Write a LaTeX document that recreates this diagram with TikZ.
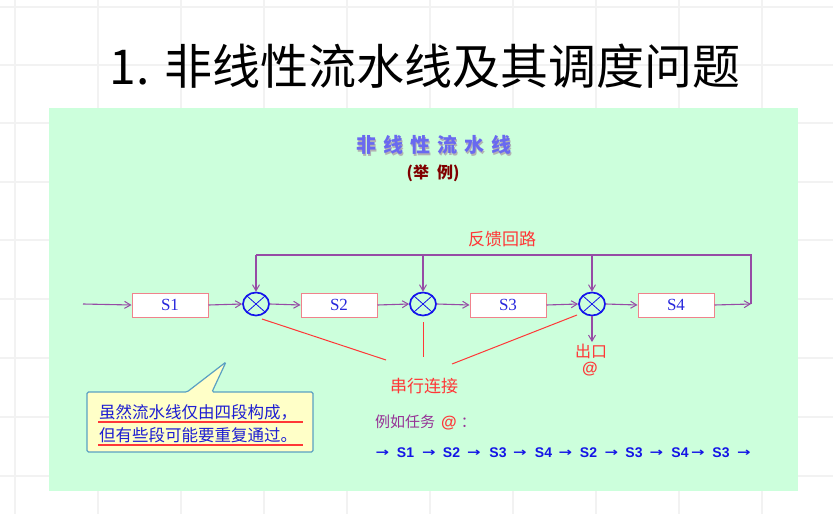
\documentclass[tikz,border=0pt]{standalone}
\usepackage{fontspec}
\usepackage{graphicx}
\setmainfont{Liberation Sans}
\newfontfamily\cjk{Noto Sans CJK SC}
\newfontfamily\serifS{Liberation Serif}
\newfontfamily\dvs{DejaVu Sans}
\usetikzlibrary{arrows.meta,shapes.geometric}
\definecolor{panelgreen}{RGB}{204,255,220}
\definecolor{gridgray}{RGB}{242,242,242}
\definecolor{flowpurple}{RGB}{150,75,165}
\definecolor{boxpink}{RGB}{240,130,140}
\definecolor{sblue}{RGB}{40,40,220}
\definecolor{cblue}{RGB}{20,20,235}
\definecolor{redline}{RGB}{255,55,55}
\definecolor{titleblue}{RGB}{105,105,240}
\definecolor{darkred}{RGB}{128,0,0}
\definecolor{callfill}{RGB}{255,255,200}
\definecolor{callborder}{RGB}{90,160,195}
\definecolor{txtblue}{RGB}{30,30,210}
\definecolor{txtpurple}{RGB}{150,50,150}
\definecolor{seqblue}{RGB}{20,20,230}
\tikzset{
  sbox/.style={draw=boxpink, fill=white, line width=1pt, minimum width=76pt, minimum height=24pt, inner sep=0pt, text=sblue, font=\serifS\fontsize{17}{17}\selectfont},
  mult/.style={ellipse, draw=cblue, line width=1.7pt, minimum width=26pt, minimum height=23pt, inner sep=0pt,
    path picture={\draw[cblue, line width=0.8pt] ([shift={(-9pt,-8pt)}]path picture bounding box.center) -- ++(18pt,16pt)
      ([shift={(-9pt,8pt)}]path picture bounding box.center) -- ++(18pt,-16pt);}},
  flowline/.style={draw=flowpurple, line width=1.1pt},
  flow/.style={flowline, -{Straight Barb[length=6pt,width=7pt,line width=1pt]}},
  redl/.style={draw=redline, line width=1pt},
  redtxt/.style={text=redline, font=\cjk\fontsize{17}{17}\selectfont, inner sep=0pt},
  seqtok/.style={text=seqblue, font=\bfseries\fontsize{14}{14}\selectfont, inner sep=0pt},
  seqarr/.style={text=seqblue, font=\dvs\bfseries\fontsize{12}{12}\selectfont, inner sep=0pt},
}
\begin{document}
\begin{tikzpicture}[x=1pt,y=-1pt]
\useasboundingbox (0,0) rectangle (833,514);
\fill[white] (0,0) rectangle (833,514);
% faint grid
\foreach \gx in {15,98,181,264,347,430,513,596,679,762}
  \draw[gridgray, line width=1.2pt] (\gx,0) -- (\gx,514);
\foreach \gy in {7,65,123,182,240,299,358,417,476}
  \draw[gridgray, line width=1.2pt] (0,\gy) -- (833,\gy);
% title
\node[font=\cjk\fontsize{48}{48}\selectfont, inner sep=0pt] (title) at (425,66) {1. 非线性流水线及其调度问题};
% panel
\fill[panelgreen] (49,108) rectangle (798,491);
% panel title with shadow
\node[font=\cjk\bfseries\fontsize{20}{20}\selectfont, text=black!30, inner sep=0pt] (ptsh) at (435,146.5)
  {非\hspace{7pt}线\hspace{7pt}性\hspace{7pt}流\hspace{7pt}水\hspace{7pt}线};
\node[font=\cjk\bfseries\fontsize{20}{20}\selectfont, text=titleblue, inner sep=0pt] (pt) at (433.5,145)
  {非\hspace{7pt}线\hspace{7pt}性\hspace{7pt}流\hspace{7pt}水\hspace{7pt}线};
\node[font=\cjk\bfseries\fontsize{16}{16}\selectfont, text=darkred, inner sep=0pt] (ex) at (433,173) {(举\hspace{8pt}例)};
% stages
\node[sbox] (S1) at (170,305) {S1};
\node[sbox] (S2) at (339,305) {S2};
\node[sbox] (S3) at (508,305) {S3};
\node[sbox] (S4) at (676,305) {S4};
\node[mult] (C1) at (256,304) {};
\node[mult] (C2) at (423,304) {};
\node[mult] (C3) at (592,304) {};
\coordinate (in) at (83,304);
\coordinate (cornerR) at (751,304);
\coordinate (topR) at (751,255);
\coordinate (top1) at (256,255);
\coordinate (top2) at (423,255);
\coordinate (top3) at (592,255);
\coordinate (exit) at (592,342);
\draw[flow] (in) -- (S1.west);
\draw[flow] (S1.east) -- (C1.west);
\draw[flow] (C1.east) -- (S2.west);
\draw[flow] (S2.east) -- (C2.west);
\draw[flow] (C2.east) -- (S3.west);
\draw[flow] (S3.east) -- (C3.west);
\draw[flow] (C3.east) -- (S4.west);
\draw[flow] (S4.east) -- (cornerR);
\draw[flowline] (cornerR) -- (topR) -- (top1);
\draw[flow] (top1) -- (C1.north);
\draw[flow] (top2) -- (C2.north);
\draw[flow] (top3) -- (C3.north);
\draw[flow] (C3.south) -- (exit);
% labels
\node[redtxt] (fb) at (502,239) {反馈回路};
\node[redtxt, font=\cjk\fontsize{16}{16}\selectfont] (chu) at (591,351) {出口};
\node[text=redline, font=\bfseries\fontsize{16}{16}\selectfont, inner sep=0pt] (at1) at (590,369) {@};
\node[redtxt] (cx) at (424,386) {串行连接};
% red connectors
\coordinate (r1a) at (262,319);
\coordinate (r1b) at (386,360);
\coordinate (r2a) at (423.5,322);
\coordinate (r2b) at (423.5,357);
\coordinate (r3a) at (577,315);
\coordinate (r3b) at (452,364);
\draw[redl] (r1a) -- (r1b);
\draw[redl, line width=1.3pt] (r2a) -- (r2b);
\draw[redl] (r3a) -- (r3b);
% callout
\draw[fill=callfill, draw=callborder, line width=1.2pt, rounded corners=1.5pt]
  (87,392) -- (187,392) -- (226,362) -- (212,392) -- (313,392) -- (313,452) -- (87,452) -- cycle;
\node[anchor=west, inner sep=0pt, text=txtblue, font=\cjk\fontsize{16.5}{16.5}\selectfont] (cl1) at (99,412) {虽然流水线仅由四段构成，};
\node[anchor=west, inner sep=0pt, text=txtblue, font=\cjk\fontsize{16.5}{16.5}\selectfont] (cl2) at (99,435) {但有些段可能要重复通过。};
\coordinate (u1a) at (98,422);
\coordinate (u1b) at (303,422);
\coordinate (u2a) at (98,445);
\coordinate (u2b) at (303,445);
\draw[redl, line width=1.1pt] (u1a) -- (u1b);
\draw[redl, line width=1.1pt] (u2a) -- (u2b);
% example
\node[anchor=west, inner sep=0pt, text=txtpurple, font=\cjk\fontsize{15}{15}\selectfont] (eg) at (375,422)
  {例如任务\hspace{6pt}{\color{redline}\rmfamily\bfseries\fontsize{16}{16}\selectfont @}\hspace{4pt}：};
% task sequence
\foreach \ax [count=\i] in {382.5,429,474,520,565.5,611.5,656.5,698,744}
  \node[seqarr] (a\i) at (\ax,453) {\scalebox{1.35}[1]{→}};
\foreach \sx/\lab [count=\i] in {405.5/S1,451.5/S2,498/S3,543.5/S4,588.5/S2,634/S3,680/S4,721/S3}
  \node[seqtok] (s\i) at (\sx,453) {\lab};
\end{tikzpicture}
\end{document}
